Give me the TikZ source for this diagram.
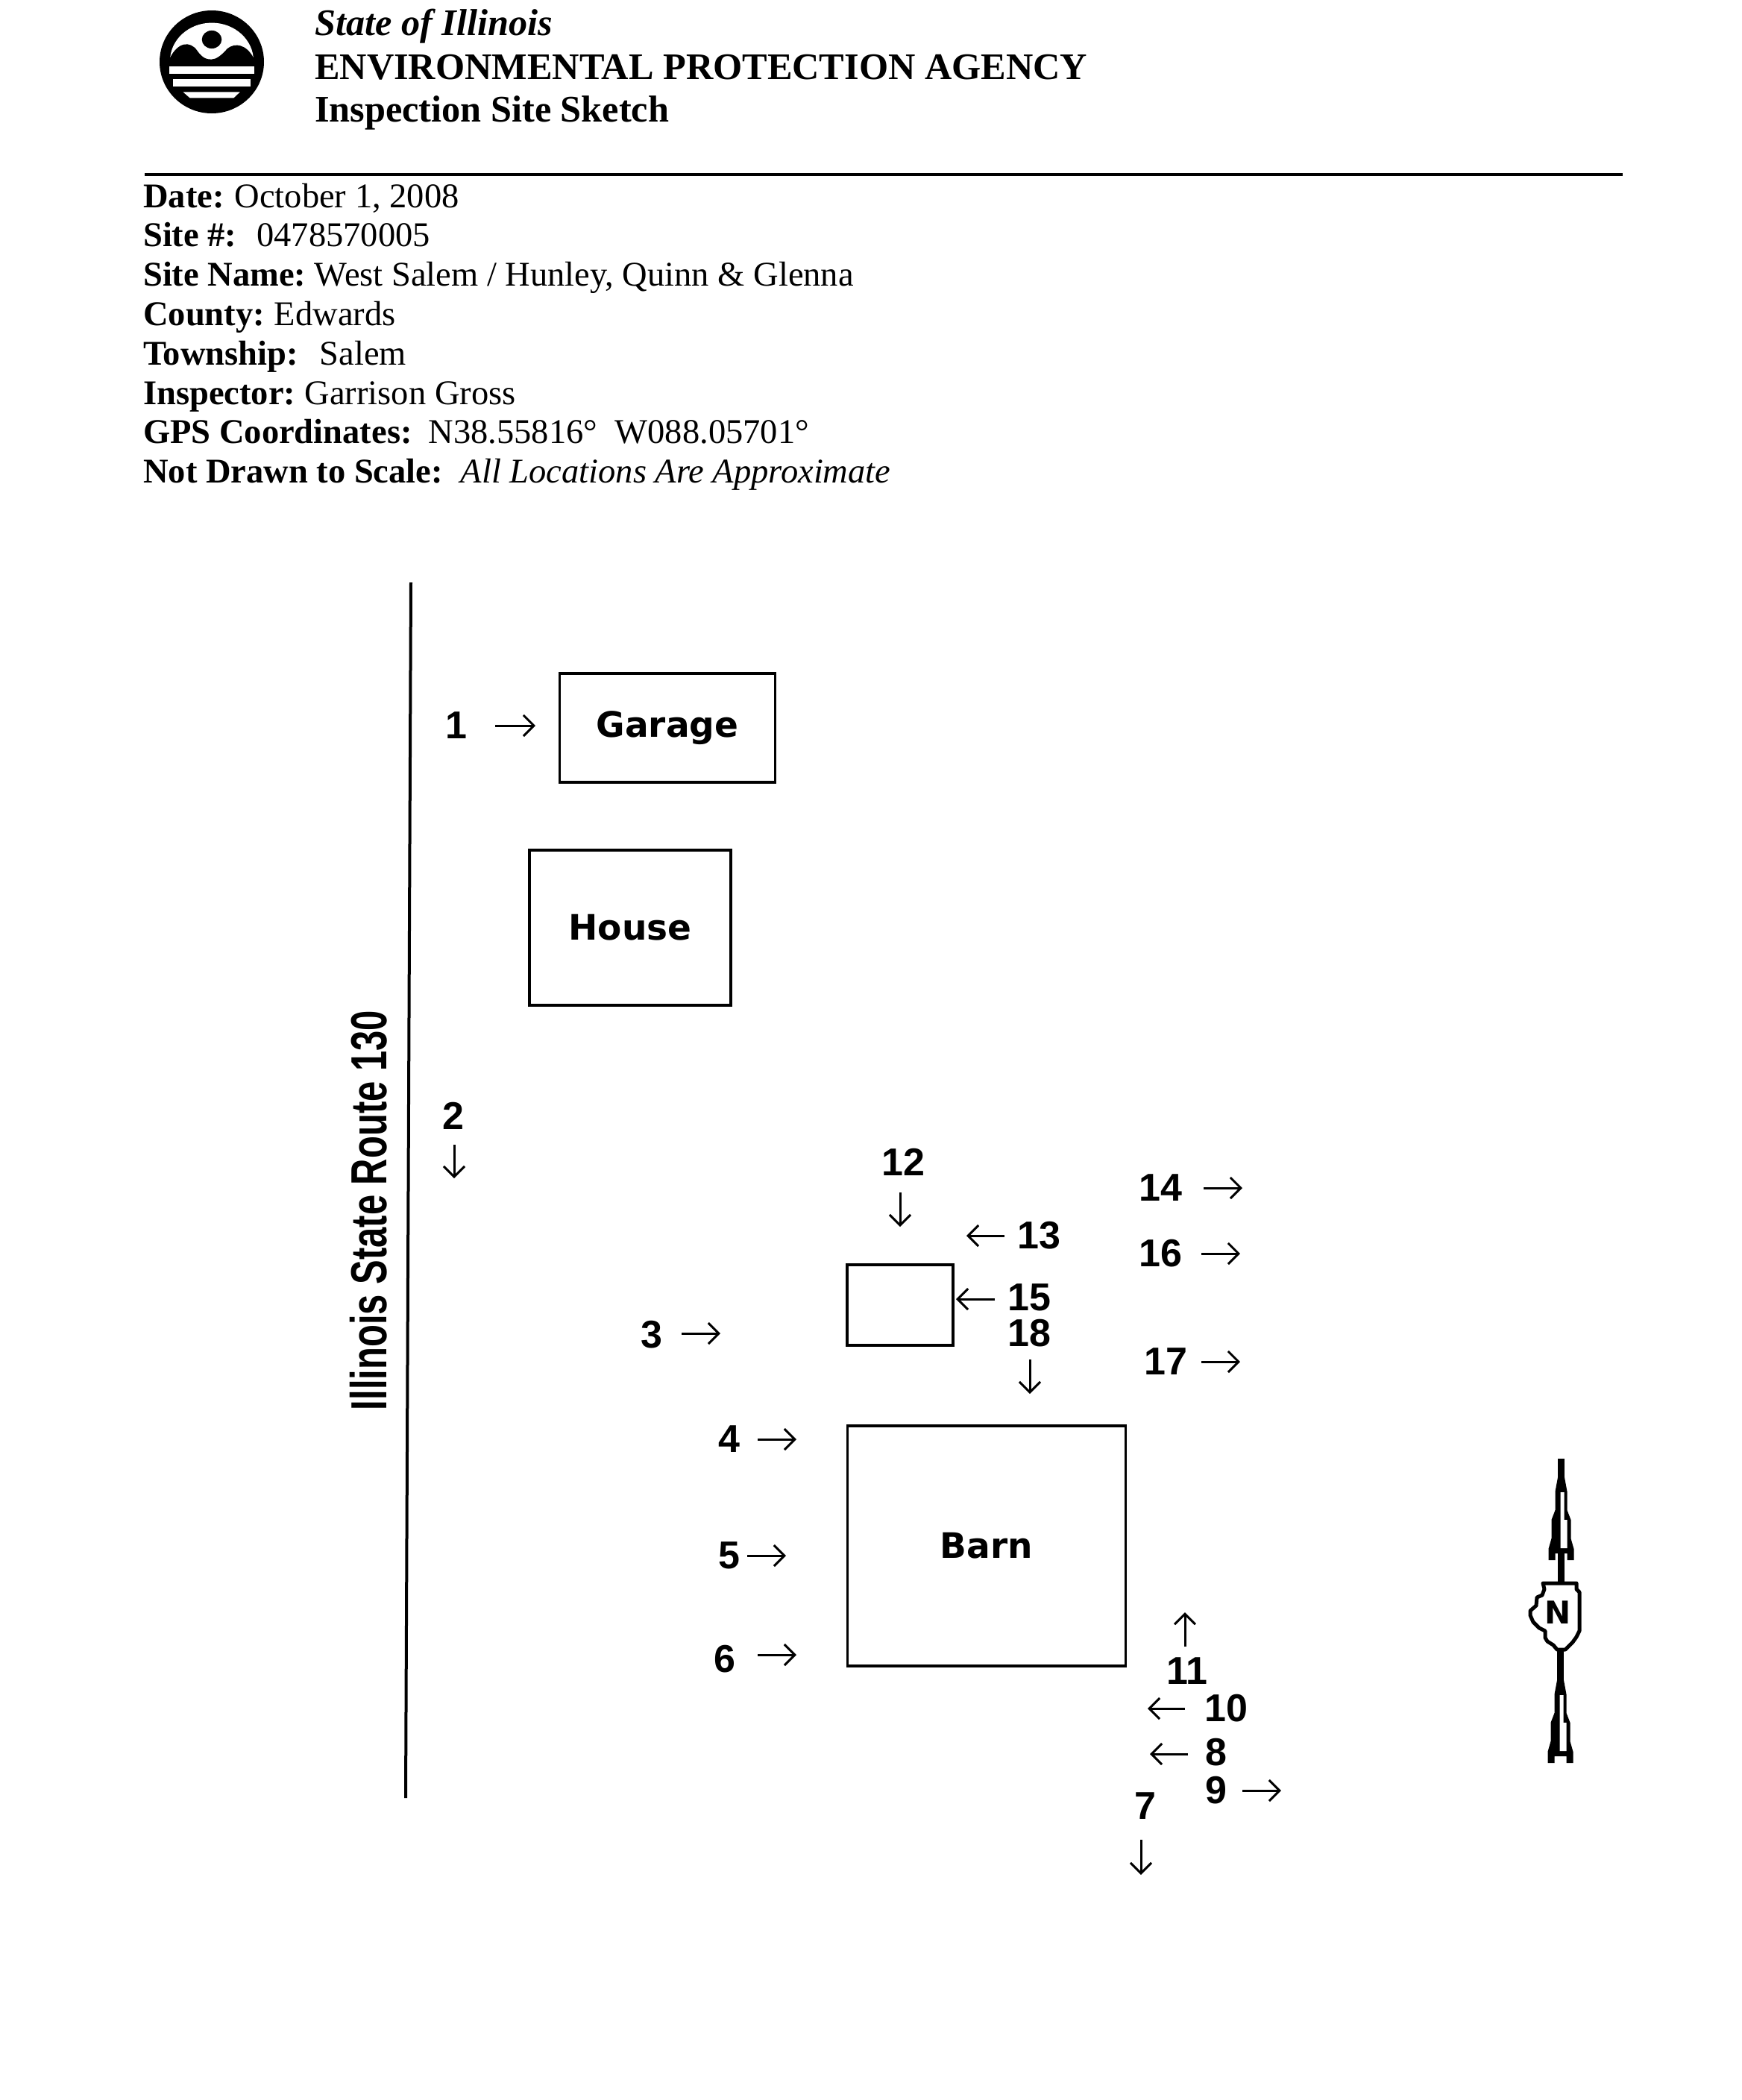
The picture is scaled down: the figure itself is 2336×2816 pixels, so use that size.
\documentclass[tikz,border=0pt]{standalone}
\usepackage{fontspec}
\setmainfont{Liberation Serif}
\newfontfamily\sketchfont{Liberation Sans}
\newfontfamily\plaquefont{DejaVu Sans}
\usetikzlibrary{arrows.meta, positioning}
\tikzset{
  header/.style={anchor=base west, inner sep=0pt, font=\fontsize{50.3}{54}\selectfont\bfseries},
  info/.style={anchor=base west, inner sep=0pt, font=\fontsize{46.5}{52}\selectfont},
  building/.style={rectangle, draw, line width=3.5pt, inner sep=0pt, font=\plaquefont\fontsize{47}{52}\selectfont\bfseries},
  photo/.style={inner sep=0pt, font=\sketchfont\fontsize{52}{56}\selectfont\bfseries},
  pointer/.style={line width=3pt, -{Straight Barb[length=14pt, width=28pt, line width=3pt]}},
  feather/.pic={
    \fill (-4.3,-20) -- (4.3,-20) -- (8,0) -- (8,25) -- (13,38) -- (13,63) -- (17,77) -- (17,92) -- (8,92) -- (8,83)
      -- (-8,83) -- (-8,92) -- (-17,92) -- (-17,77) -- (-13,63) -- (-13,38) -- (-8,25) -- (-8,0) -- cycle;
    \fill[white] (-1,1) -- (4,1) -- (4,38) -- (8,38) -- (8,76) -- (-1,76) -- cycle;
  }
}
\begin{document}
\begin{tikzpicture}[x=1pt, y=-1pt]
  \useasboundingbox (0,0) rectangle (2336,2816);

  % agency seal
  \begin{scope}[shift={(284,83)}, x=70pt, y=-69pt]
    \fill (0,0) circle[x radius=1, y radius=1];
    \begin{scope}
      \clip (-1,-1) rectangle (1,0.05);
      \fill[white] (0,-0.02) circle[x radius=0.8, y radius=0.74];
    \end{scope}
    \fill (0,-0.435) circle[x radius=0.19, y radius=0.175];
    \fill (-0.8,0.1) -- (-0.8,-0.08) .. controls (-0.65,-0.38) and (-0.42,-0.42) .. (-0.28,-0.22)
      .. controls (-0.16,-0.04) and (-0.06,-0.05) .. (0,-0.05)
      .. controls (0.08,-0.05) and (0.18,-0.12) .. (0.3,-0.26)
      .. controls (0.45,-0.38) and (0.66,-0.34) .. (0.8,-0.08) -- (0.8,0.1) -- cycle;
    \fill[white] (-0.81,0.085) rectangle (0.81,0.235);
    \fill[white] (-0.75,0.335) rectangle (0.74,0.475);
    \fill[white] (-0.55,0.585) -- (0.54,0.585) -- (0.42,0.7) -- (-0.42,0.7) -- cycle;
  \end{scope}

  % heading
  \node[header] (state) at (422,47) {\itshape State of Illinois};
  \node[header] (agency) at (422,106) {ENVIRONMENTAL PROTECTION AGENCY};
  \node[header] (title) at (422,163) {Inspection Site Sketch};
  \coordinate (ruleL) at (194,234);
  \coordinate (ruleR) at (2176,234);
  \draw[line width=3.5pt] (ruleL) -- (ruleR);

  % site data
  \node[info] (date) at (192,278) {\textbf{Date:}\hspace{14pt}October 1, 2008};
  \node[info] (num) at ([yshift=-52.8pt]date.base west) {\textbf{Site \#:}\hspace{27pt}0478570005};
  \node[info] (name) at ([yshift=-52.8pt]num.base west) {\textbf{Site Name:}\hspace{11.5pt}West Salem / Hunley, Quinn \& Glenna};
  \node[info] (county) at ([yshift=-52.8pt]name.base west) {\textbf{County:}\hspace{13pt}Edwards};
  \node[info] (township) at ([yshift=-52.8pt]county.base west) {\textbf{Township:}\hspace{29pt}Salem};
  \node[info] (inspector) at ([yshift=-52.8pt]township.base west) {\textbf{Inspector:}\hspace{12.5pt}Garrison Gross};
  \node[info] (gps) at ([yshift=-52.8pt]inspector.base west) {\textbf{GPS Coordinates:}\hspace{22pt}N38.55816° \hspace{12pt}W088.05701°};
  \node[info] (scale) at ([yshift=-52.8pt]gps.base west) {\textbf{Not Drawn to Scale:}\hspace{24pt}\textit{All Locations Are Approximate}};

  % road
  \coordinate (roadN) at (551,781);
  \coordinate (roadS) at (544,2411);
  \draw[line width=4pt] (roadN) -- (roadS);
  \node[rotate=90, inner sep=0pt, font=\sketchfont\fontsize{68}{70}\selectfont\bfseries] (route) at (494,1623) {\scalebox{0.72}[1]{Illinois State Route 130}};

  % buildings
  \node[building, minimum width=289pt, minimum height=146pt] (garage) at (895,976) {Garage};
  \node[building, minimum width=270pt, minimum height=208pt] (house) at (845,1244) {House};
  \node[building, minimum width=142pt, minimum height=108pt] (shed) at (1207,1750) {};
  \node[building, minimum width=373pt, minimum height=322pt] (barn) at (1323,2073) {Barn};

  % photo locations
  \foreach \n/\x/\y in {1/612/973, 2/608/1496, 3/874/1790, 4/978/1930, 5/978/2086, 6/972/2225,
      7/1536/2422, 8/1631/2350, 9/1631/2401, 10/1644/2291, 11/1592/2241, 12/1211/1558,
      13/1393/1657, 14/1556/1593, 15/1380/1740, 16/1556/1681, 17/1563/1826, 18/1380/1788}
    \node[photo] (p\n) at (\x,\y) {\n};

  \foreach \n/\ax/\ay/\bx/\by in {1/664/973/718/973, 2/609/1535/609/1580, 3/914/1788/966/1788,
      4/1016/1930/1068/1930, 5/1002/2086/1054/2086, 6/1016/2219/1068/2219, 7/1530/2467/1530/2514,
      8/1593/2352/1542/2352, 9/1666/2401/1718/2401, 10/1589/2291/1539/2291, 11/1589/2208/1589/2162,
      12/1207/1599/1207/1645, 13/1347/1657/1296/1657, 14/1614/1593/1666/1593, 15/1334/1742/1282/1742,
      16/1611/1681/1663/1681, 17/1611/1826/1663/1826, 18/1381/1823/1381/1869} {
    \coordinate (a\n) at (\ax,\ay);
    \coordinate (b\n) at (\bx,\by);
    \draw[pointer] (a\n) -- (b\n);
  }

  % north arrow
  \fill (2089,1956) rectangle (2097.5,2002);
  \pic at (2093.5,2000) {feather};
  \fill (2089,2080) rectangle (2097.5,2125);
  \fill (2088,2208) rectangle (2096.5,2275);
  \pic at (2092.5,2272) {feather};
  \draw[line width=5pt, fill=white, line join=round] (2069,2123) -- (2114,2123) -- (2114,2131) -- (2118,2135)
    -- (2118,2187) -- (2114,2195) -- (2109,2202) -- (2099,2212) -- (2088,2212) -- (2083,2206) -- (2075,2201)
    -- (2072,2196) -- (2072,2187) -- (2064,2183) -- (2056,2175) -- (2052,2166) -- (2052,2160) -- (2060,2153)
    -- (2061,2142) -- (2068,2139) -- (2071,2131) -- cycle;
  \node[inner sep=0pt, font=\plaquefont\fontsize{42}{44}\selectfont\bfseries] (north) at (2089,2162) {N};
\end{tikzpicture}
\end{document}
